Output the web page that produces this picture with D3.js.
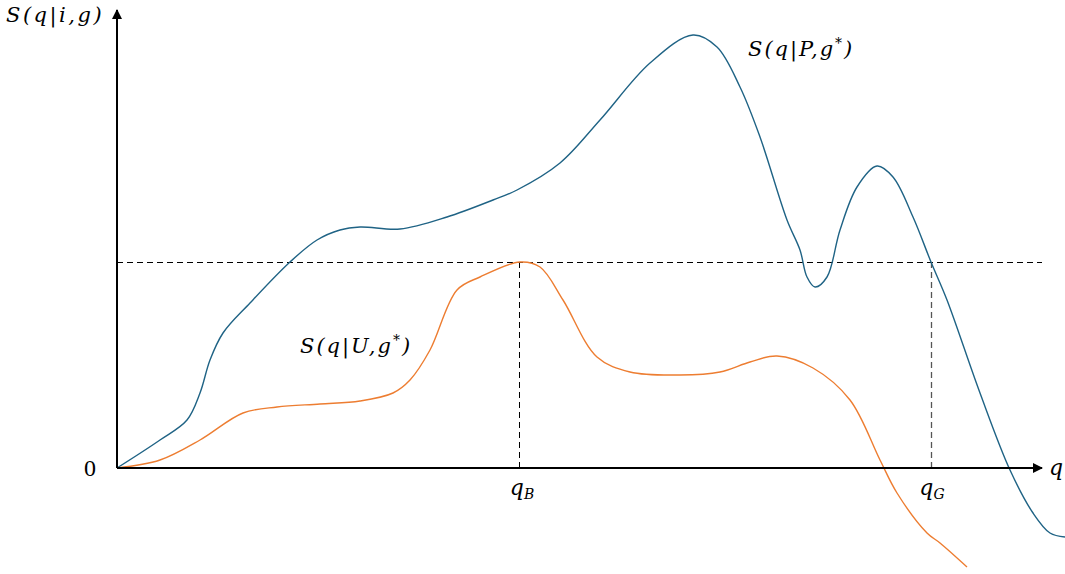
<!DOCTYPE html>
<html><head><meta charset="utf-8">
<script src="https://d3js.org/d3.v7.min.js"></script>
<style>
html,body{margin:0;padding:0;background:#fff;}
svg text{font-family:"DejaVu Serif","Liberation Serif",serif;font-style:italic;fill:#000;}
</style></head>
<body><svg id="c" width="1065" height="574"></svg>
<script>
// Data (q in arbitrary units, S in arbitrary units)
const blueQ = [0,43,70,83,93,106,133,173,200,223,243,283,330,376,400,443,483,533,576,600,623,643,670,683,690,698,710,723,740,760,776,796,814,830,863,893,916,933,948];
const blueS = [0,28,48,75,108,135,165,206,228,238,241,239,251,268,278,305,348,405,433,421,381,331,248,218,191,181,191,238,281,302,291,251,206,168,75,-2,-45,-65,-69];
const orangeQ = [0,43,83,126,160,203,243,276,293,313,340,363,403,423,446,480,513,563,603,633,660,696,733,763,780,810,823,850];
const orangeS = [0,8,28,55,61,64,67,75,88,118,178,191,206,201,168,111,96,93,96,106,112,100,68,8,-25,-65,-75,-99];
const threshold = 206;
const qB = 402, qG = 814;
const xMax = 925, yMax = 458;

const svg = d3.select("#c");
const x = d3.scaleLinear().domain([0, xMax]).range([117, 1042]);
const y = d3.scaleLinear().domain([0, yMax]).range([468, 10]);

const defs = svg.append("defs");
defs.append("marker").attr("id","arr").attr("viewBox","0 0 10 10").attr("refX",9).attr("refY",5)
  .attr("markerWidth",5).attr("markerHeight",5).attr("orient","auto")
  .append("path").attr("d","M0,0 L10,5 L0,10 Z").attr("fill","#000");

const line = d3.line().x(d=>x(d[0])).y(d=>y(d[1])).curve(d3.curveCatmullRom.alpha(0.5));

// dashed guides (half-pixel offsets for crisp 1px lines)
svg.append("line").attr("x1",x(0)).attr("x2",x(xMax)).attr("y1",y(threshold)+0.5).attr("y2",y(threshold)+0.5)
  .attr("stroke","#000").attr("stroke-width",1).attr("stroke-dasharray","6,4");
svg.append("line").attr("x1",x(qB)+0.5).attr("x2",x(qB)+0.5).attr("y1",y(threshold)).attr("y2",y(0))
  .attr("stroke","#000").attr("stroke-width",1).attr("stroke-dasharray","6,4");
svg.append("line").attr("x1",x(qG)+0.5).attr("x2",x(qG)+0.5).attr("y1",y(threshold)).attr("y2",y(0))
  .attr("stroke","#555").attr("stroke-width",1.3).attr("stroke-dasharray","6,4");

// curves
svg.append("path").datum(blueQ.map((q,i)=>[q,blueS[i]])).attr("d",line)
  .attr("fill","none").attr("stroke","#1f6385").attr("stroke-width",1.4);
svg.append("path").datum(orangeQ.map((q,i)=>[q,orangeS[i]])).attr("d",line)
  .attr("fill","none").attr("stroke","#ed7d31").attr("stroke-width",1.4);

// axes
svg.append("line").attr("x1",x(0)).attr("y1",y(0)).attr("x2",x(0)).attr("y2",y(yMax))
  .attr("stroke","#000").attr("stroke-width",2).attr("marker-end","url(#arr)");
svg.append("line").attr("x1",x(0)).attr("y1",y(0)).attr("x2",x(xMax)).attr("y2",y(0))
  .attr("stroke","#000").attr("stroke-width",2).attr("marker-end","url(#arr)");

// labels
svg.append("text").attr("x",6).attr("y",22).attr("font-size",21).style("letter-spacing","2.5px").text("S(q|i,g)");
svg.append("text").attr("x",84).attr("y",y(0)+8).attr("font-size",24)
  .style("font-family","Liberation Serif").style("font-style","normal").text("0");
svg.append("text").attr("x",1049).attr("y",y(0)+7).attr("font-size",22).text("q");

function sub(xp, base, s){
  const t = svg.append("text").attr("x",xp).attr("y",y(0)+27).attr("font-size",22).attr("text-anchor","middle");
  t.append("tspan").text(base);
  t.append("tspan").attr("font-size",14).attr("dy",4).text(s);
}
sub(x(qB)+3,"q","B");
sub(x(qG)+1,"q","G");

function lab(xp, yp, inner){
  const t = svg.append("text").attr("x",xp).attr("y",yp).attr("font-size",21).style("letter-spacing","2px");
  t.append("tspan").text("S(q|"+inner+",g");
  t.append("tspan").attr("font-size",14).attr("dy",-8).text("*");
  t.append("tspan").attr("dy",8).text(")");
}
lab(748,56,"P");
lab(300,353,"U");
</script></body></html>
